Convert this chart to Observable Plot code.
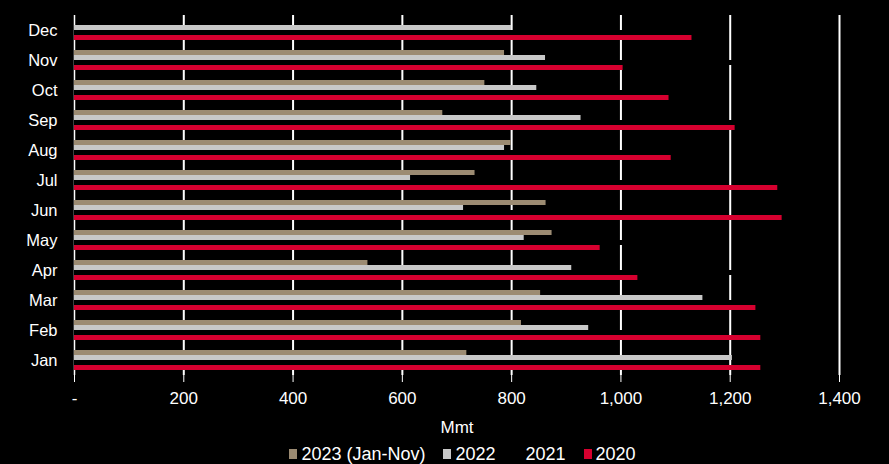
<!DOCTYPE html>
<html>
<head>
<meta charset="utf-8">
<script src="https://cdn.jsdelivr.net/npm/d3@7"></script>
<script src="https://cdn.jsdelivr.net/npm/@observablehq/plot@0.6"></script>
<style>
  html, body { margin: 0; padding: 0; background: #000; }
  body { width: 889px; height: 464px; overflow: hidden; font-family: "Liberation Sans", Arial, sans-serif; color: #fff; }
  #legend { display: flex; justify-content: center; align-items: center; height: 24px; margin-top: 2px; margin-left: 36px;
    font-family: "Liberation Sans Narrow", "Arial Narrow", "Liberation Sans", sans-serif; font-size: 18px; color: #fff; }
  #legend .item { display: flex; align-items: center; margin: 0 9px; }
  #legend .sw { width: 8px; height: 10px; margin-right: 4px; display: inline-block; }
</style>
</head>
<body>
<div id="chart"></div>
<div id="legend"></div>
<script>
const months = ["Jan","Feb","Mar","Apr","May","Jun","Jul","Aug","Sep","Oct","Nov","Dec"];
const seriesNames = ["2023 (Jan-Nov)", "2022", "2021", "2020"];
const seriesColors = ["#9c8b72", "#c8c8c8", "#000000", "#d6002f"];
const v2023 = [718, 818, 853, 537, 874, 863, 733, 799, 674, 751, 787, null];
const v2022 = [1204, 941, 1150, 910, 823, 712, 615, 787, 927, 846, 862, 800];
const v2021 = [1160, 1150, 1260, 1230, 1100, 1140, 1110, 1100, 1250, 1130, 1260, 1078];
const v2020 = [1256, 1256, 1247, 1031, 962, 1295, 1287, 1092, 1209, 1088, 1004, 1130];
const xTicks = [0, 200, 400, 600, 800, 1000, 1200, 1400];

const seriesValues = [v2023, v2022, v2021, v2020];
const data = [];
months.forEach((m, i) => {
  seriesNames.forEach((s, j) => {
    const v = seriesValues[j][i];
    if (v != null) data.push({month: m, series: s, value: v});
  });
});

const chart = Plot.plot({
  width: 889,
  height: 440,
  marginLeft: 74,
  marginRight: 50,
  marginTop: 15,
  marginBottom: 65,
  style: {background: "#000", color: "#fff", fontFamily: "Liberation Sans, Arial, sans-serif"},
  x: {domain: [0, 1400]},
  fy: {domain: months.slice().reverse(), padding: 0},
  y: {domain: seriesNames, paddingInner: 0, paddingOuter: 1, axis: null},
  color: {domain: seriesNames, range: seriesColors},
  marks: [
    Plot.ruleX(xTicks.slice(1), {stroke: "#fff", strokeWidth: 2}),
    Plot.ruleX([0], {stroke: "#fff", strokeWidth: 1.5}),
    Plot.barX(data, {x: "value", y: "series", fy: "month", fill: "series", inset: 0}),
    Plot.axisFy({anchor: "left", tickSize: 0, tickPadding: 17, label: null, fontSize: 16.5, fill: "#fff"}),
    Plot.axisX({
      ticks: xTicks,
      tickFormat: d => d === 0 ? "-" : d3.format(",")(d),
      tickSize: 7,
      tickPadding: 9,
      stroke: "#fff",
      fontSize: 17,
      fontFamily: "Liberation Sans Narrow, Arial Narrow, Liberation Sans, sans-serif",
      label: "Mmt",
      labelAnchor: "center",
      labelArrow: "none",
      labelOffset: 57
    })
  ]
});
document.getElementById("chart").appendChild(chart);

const legend = document.getElementById("legend");
seriesNames.forEach((s, j) => {
  const item = document.createElement("span");
  item.className = "item";
  const sw = document.createElement("span");
  sw.className = "sw";
  sw.style.background = seriesColors[j];
  item.appendChild(sw);
  item.appendChild(document.createTextNode(s));
  legend.appendChild(item);
});
</script>
</body>
</html>
